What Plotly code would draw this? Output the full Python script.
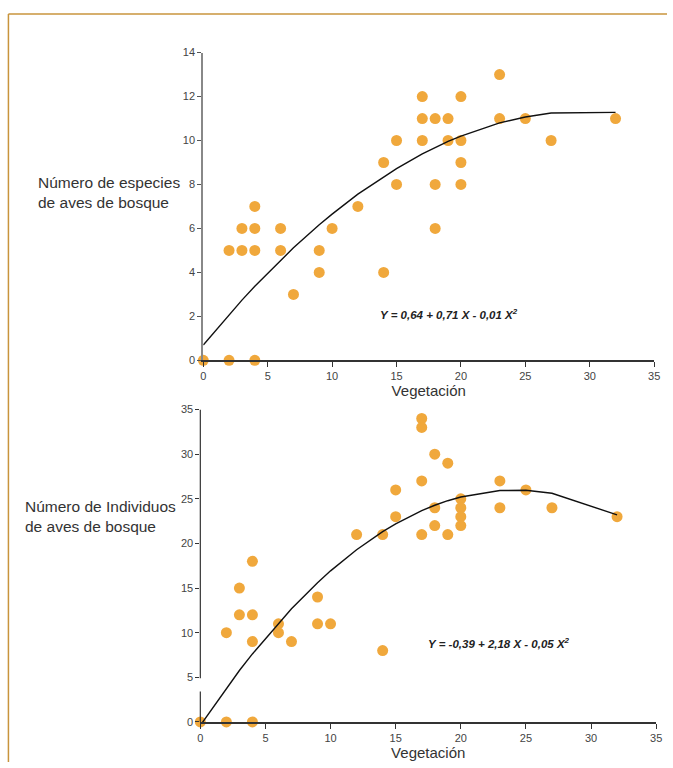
import plotly.graph_objects as go

# ---- data: top chart (species) ----
sp_x = [0, 2, 4, 2, 3, 3, 4, 4, 4, 6, 6, 7, 9, 9, 10, 12, 14, 14, 15, 15,
        17, 17, 17, 18, 18, 18, 19, 19, 20, 20, 20, 20, 23, 23, 25, 27, 32]
sp_y = [0, 0, 0, 5, 5, 6, 5, 6, 7, 6, 5, 3, 5, 4, 6, 7, 9, 4, 10, 8,
        12, 11, 10, 11, 8, 6, 11, 10, 12, 10, 9, 8, 13, 11, 11, 10, 11]
sp_fit_x = [0, 2, 3, 4, 6, 7, 9, 10, 12, 14, 15, 17, 18, 19, 20, 23, 25, 27, 32]
sp_fit_y = [0.70, 2.08, 2.74, 3.37, 4.56, 5.12, 6.17, 6.65, 7.56, 8.36, 8.72,
            9.39, 9.68, 9.96, 10.2, 10.8, 11.07, 11.25, 11.28]

# ---- data: bottom chart (individuals) ----
ind_x = [0, 2, 4, 2, 3, 3, 4, 4, 4, 6, 6, 7, 9, 9, 10, 12, 14, 14, 15, 15,
         17, 17, 17, 17, 18, 18, 18, 19, 19, 20, 20, 20, 20, 23, 23, 25, 27, 32]
ind_y = [0, 0, 0, 10, 15, 12, 18, 12, 9, 11, 10, 9, 14, 11, 11, 21, 21, 8, 26, 23,
         34, 33, 27, 21, 30, 24, 22, 29, 21, 25, 24, 23, 22, 27, 24, 26, 24, 23]
ind_fit_x = [0, 2, 3, 4, 6, 7, 9, 10, 12, 14, 15, 17, 18, 19, 20, 23, 25, 27, 32]
ind_fit_y = [-0.39, 3.80, 5.76, 7.62, 11.08, 12.69, 15.61, 16.93, 19.30, 21.33, 22.2,
             23.68, 24.28, 24.79, 25.2, 25.93, 25.96, 25.63, 23.2]

x_ticks = [0, 5, 10, 15, 20, 25, 30, 35]
sp_y_ticks = [0, 2, 4, 6, 8, 10, 12, 14]
ind_y_ticks = [0, 5, 10, 15, 20, 25, 30, 35]

DOT = "#F0A83C"
FONT = "Liberation Sans, Arial, sans-serif"

fig = go.Figure()
fig.add_trace(go.Scatter(x=sp_x, y=sp_y, mode="markers", xaxis="x", yaxis="y",
                         marker=dict(color=DOT, size=11, line=dict(width=0)),
                         cliponaxis=False, showlegend=False))
fig.add_trace(go.Scatter(x=sp_fit_x, y=sp_fit_y, mode="lines", xaxis="x", yaxis="y",
                         line=dict(color="#111111", width=1.4),
                         cliponaxis=False, showlegend=False))
fig.add_trace(go.Scatter(x=ind_x, y=ind_y, mode="markers", xaxis="x2", yaxis="y2",
                         marker=dict(color=DOT, size=11, line=dict(width=0)),
                         cliponaxis=False, showlegend=False))
fig.add_trace(go.Scatter(x=ind_fit_x, y=ind_fit_y, mode="lines", xaxis="x2", yaxis="y2",
                         line=dict(color="#111111", width=1.4),
                         cliponaxis=False, showlegend=False))

tickfont = dict(family=FONT, size=11, color="#444444")
common_x = dict(range=[0, 35], tickvals=x_ticks, showgrid=False, zeroline=False,
                showline=True, linecolor="#333333", linewidth=1.5,
                ticks="outside", ticklen=5, tickcolor="#333333", tickfont=tickfont,
                title=dict(text="Vegetación", font=dict(family=FONT, size=15, color="#333333"),
                           standoff=4))

fig.update_layout(
    width=673, height=768,
    margin=dict(l=0, r=0, t=0, b=0),
    paper_bgcolor="white", plot_bgcolor="white",
    xaxis=dict(domain=[203/673, 660/673], anchor="y", **common_x),
    yaxis=dict(domain=[(768-360)/768, (768-47.3)/768], anchor="x", range=[0, 14],
               tickvals=sp_y_ticks, showgrid=False, zeroline=False,
               showline=True, linecolor="#888888", linewidth=2,
               ticks="outside", ticklen=4, tickcolor="#555555", tickfont=tickfont),
    xaxis2=dict(domain=[200/673, 662/673], anchor="y2", **common_x),
    yaxis2=dict(domain=[(768-727.3)/768, (768-410)/768], anchor="x2", range=[0, 35],
                tickvals=ind_y_ticks, showgrid=False, zeroline=False,
                showline=False,
                ticks="outside", ticklen=4, tickcolor="#333333", tickfont=tickfont),
)

# broken y-axis line on bottom chart
fig.add_shape(type="line", xref="x2 domain", yref="y2", x0=0, x1=0, y0=0, y1=3.4,
              line=dict(color="#333333", width=1.2))
fig.add_shape(type="line", xref="x2 domain", yref="y2", x0=0, x1=0, y0=4.9, y1=35,
              line=dict(color="#333333", width=1.2))

# frame
fig.add_shape(type="line", xref="paper", yref="paper", x0=5.5/673, x1=1, y0=1-8/768, y1=1-8/768,
              line=dict(color="#C8943C", width=1.5))
fig.add_shape(type="line", xref="paper", yref="paper", x0=5.5/673, x1=5.5/673, y0=0, y1=1-8/768,
              line=dict(color="#C8943C", width=1.5))

# equations
fig.add_annotation(x=19.1, y=2.1, xref="x", yref="y", showarrow=False,
                   text="<b><i>Y = 0,64 + 0,71 X - 0,01 X<sup>2</sup></i></b>",
                   font=dict(family=FONT, size=11.5, color="#222222"))
fig.add_annotation(x=22.9, y=8.9, xref="x2", yref="y2", showarrow=False,
                   text="<b><i>Y = -0,39 + 2,18 X - 0,05 X<sup>2</sup></i></b>",
                   font=dict(family=FONT, size=11.5, color="#222222"))

# left labels
fig.add_annotation(x=33/673, y=1-169/768, xref="paper", yref="paper", showarrow=False,
                   xanchor="left", align="left",
                   text="Número de especies<br>de aves de bosque",
                   font=dict(family=FONT, size=15.5, color="#333333"))
fig.add_annotation(x=20/673, y=1-539/768, xref="paper", yref="paper", showarrow=False,
                   xanchor="left", align="left",
                   text="Número de Individuos<br>de aves de bosque",
                   font=dict(family=FONT, size=15.5, color="#333333"))

fig.write_html(
    "out.html",
    config={"displayModeBar": False},
    post_script=("document.documentElement.style.margin='0';"
                 "document.documentElement.style.overflow='hidden';"
                 "document.body.style.margin='0';"
                 "document.body.style.overflow='hidden';"),
)
